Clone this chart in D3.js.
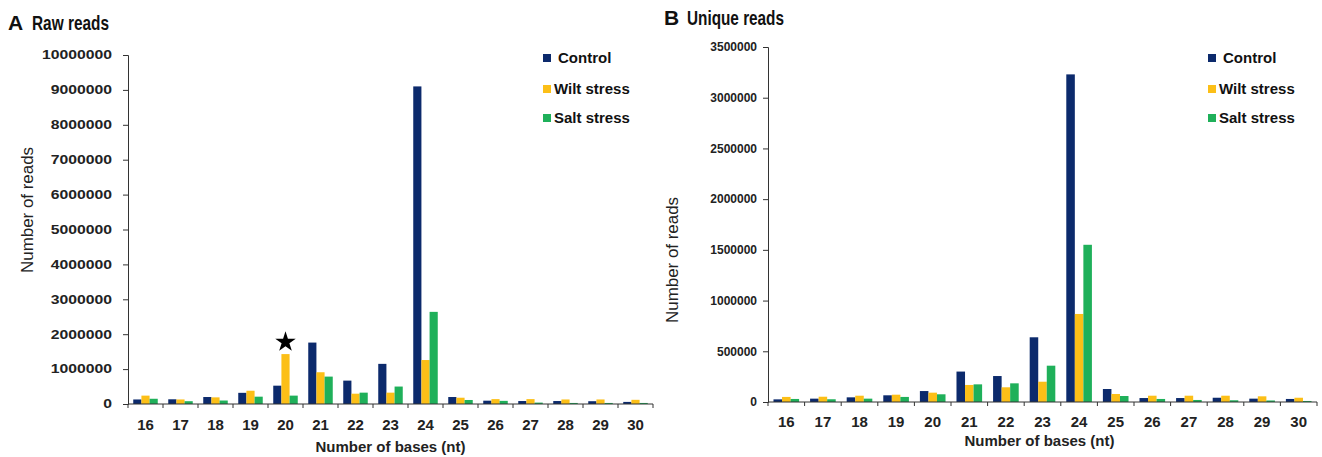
<!DOCTYPE html>
<html>
<head>
<meta charset="utf-8">
<script src="https://cdn.jsdelivr.net/npm/d3@7"></script>
<style>
  body { margin: 0; background: #fff; }
  svg { display: block; font-family: "Liberation Sans", Arial, Helvetica, sans-serif; }
</style>
</head>
<body>
<div id="chart"></div>
<script>
var W = 1322, H = 457;

// sRNA length classes (nt)
var lengths = ["16", "17", "18", "19", "20", "21", "22", "23", "24", "25", "26", "27", "28", "29", "30"];
var seriesNames = ["Control", "Wilt stress", "Salt stress"];
var colors = ["#0c2a6c", "#fcbf17", "#1fb05a"];

// A: raw reads
var rawControl = [130000, 135000, 200000, 320000, 525000, 1760000, 670000, 1150000, 9100000, 200000, 95000, 85000, 85000, 80000, 60000];
var rawWilt    = [240000, 130000, 190000, 380000, 1430000, 910000, 295000, 325000, 1260000, 180000, 140000, 140000, 130000, 130000, 120000];
var rawSalt    = [150000, 80000, 100000, 210000, 240000, 785000, 325000, 500000, 2640000, 115000, 90000, 40000, 30000, 30000, 30000];

// B: unique reads
var uniqControl = [26000, 33000, 46000, 66000, 108000, 300000, 256000, 638000, 3230000, 128000, 39000, 39000, 42000, 33000, 30000];
var uniqWilt    = [50000, 52000, 62000, 72000, 92000, 168000, 145000, 200000, 868000, 79000, 62000, 62000, 62000, 56000, 42000];
var uniqSalt    = [30000, 27000, 33000, 50000, 76000, 174000, 184000, 358000, 1550000, 59000, 30000, 20000, 17000, 15000, 10000];

var rawTicks  = [0, 1000000, 2000000, 3000000, 4000000, 5000000, 6000000, 7000000, 8000000, 9000000, 10000000];
var uniqTicks = [0, 500000, 1000000, 1500000, 2000000, 2500000, 3000000, 3500000];

var svg = d3.select("#chart").append("svg")
	.attr("width", W)
	.attr("height", H);

svg.append("rect").attr("width", W).attr("height", H).attr("fill", "#fff");

function drawPanel(p) {
	var g = svg.append("g");

	var x = d3.scaleBand().domain(lengths).range([p.left, p.right]).padding(0);
	var y = d3.scaleLinear().domain([0, p.max]).range([p.bottom, p.top]);
	var inner = d3.scaleBand().domain(d3.range(3)).range([0, x.bandwidth() * p.group]);
	var off = (x.bandwidth() - inner.range()[1]) / 2;

	var series = [p.control, p.wilt, p.salt];

	// bars
	series.forEach(function(vals, si) {
		g.append("g").selectAll("rect")
			.data(vals)
			.enter()
			.append("rect")
			.attr("x", (d, i) => x(lengths[i]) + off + inner(si))
			.attr("y", d => y(d))
			.attr("width", inner.bandwidth())
			.attr("height", d => p.bottom - y(d))
			.attr("fill", colors[si]);
	});

	// y axis
	var ya = g.append("g")
		.attr("transform", "translate(" + p.left + ",0)")
		.call(d3.axisLeft(y).tickValues(p.ticks).tickSize(5).tickPadding(p.pad).tickFormat(d3.format("d")));
	ya.select(".domain").attr("stroke", "#333");
	ya.selectAll(".tick line").attr("stroke", "#333");
	ya.selectAll("text")
		.attr("fill", "#222")
		.style("font-size", "12px")
		.style("font-weight", "bold")
		.style("font-family", "'Liberation Sans', Arial, sans-serif");
	if (p.stretch) {
		ya.selectAll("text")
			.attr("textLength", d => String(d).length * p.stretch)
			.attr("lengthAdjust", "spacingAndGlyphs");
	}

	// x axis: line plus ticks on category borders
	g.append("line")
		.attr("x1", p.left).attr("x2", p.right)
		.attr("y1", p.bottom).attr("y2", p.bottom)
		.attr("stroke", "#333");
	var borders = lengths.map(d => x(d)).concat([p.right]);
	g.append("g").selectAll("line")
		.data(borders)
		.enter()
		.append("line")
		.attr("x1", d => d).attr("x2", d => d)
		.attr("y1", p.bottom).attr("y2", p.bottom + 4)
		.attr("stroke", "#333");
	g.append("g").selectAll("text")
		.data(lengths)
		.enter()
		.append("text")
		.attr("x", d => x(d) + x.bandwidth() / 2)
		.attr("y", p.xlabY)
		.attr("text-anchor", "middle")
		.style("font-size", "15px")
		.style("font-weight", "bold")
		.attr("fill", "#222")
		.text(d => d);

	// axis titles
	g.append("text")
		.attr("x", (p.left + p.right) / 2 + p.xtitleDx)
		.attr("y", p.xtitleY)
		.attr("text-anchor", "middle")
		.style("font-size", "15px")
		.style("font-weight", "bold")
		.attr("fill", "#222")
		.text("Number of bases (nt)");

	g.append("text")
		.attr("transform", "translate(" + p.ytitleX + "," + p.ytitleY + ") rotate(-90)")
		.attr("text-anchor", "middle")
		.attr("textLength", 126)
		.attr("lengthAdjust", "spacingAndGlyphs")
		.style("font-size", "16px")
		.attr("fill", "#222")
		.text("Number of reads");

	// panel letter and title
	g.append("text")
		.attr("x", p.letterX).attr("y", p.titleY)
		.style("font-size", "21px").style("font-weight", "bold")
		.attr("fill", "#111")
		.text(p.letter);
	g.append("text")
		.attr("x", p.titleX).attr("y", p.titleY)
		.attr("textLength", p.titleLen)
		.attr("lengthAdjust", "spacingAndGlyphs")
		.style("font-size", "21px").style("font-weight", "bold")
		.attr("fill", "#111")
		.text(p.title);

	// legend
	var lg = g.append("g").selectAll("g")
		.data(seriesNames)
		.enter()
		.append("g")
		.attr("transform", (d, i) => "translate(" + p.legX + "," + p.legY[i] + ")");
	lg.append("rect")
		.attr("x", 0).attr("y", -4)
		.attr("width", 8).attr("height", 8)
		.attr("fill", (d, i) => colors[i]);
	lg.append("text")
		.attr("x", (d, i) => i === 0 ? 15 : 11)
		.attr("y", 5)
		.style("font-size", "15px")
		.style("font-weight", "bold")
		.attr("fill", "#111")
		.text(d => d);

	return { x: x, y: y, inner: inner, off: off };
}

var a = drawPanel({
	left: 128, right: 653, top: 55, bottom: 404, max: 10000000,
	ticks: rawTicks, pad: 11, stretch: 8.75, group: 0.7,
	control: rawControl, wilt: rawWilt, salt: rawSalt,
	xlabY: 430, xtitleY: 452, xtitleDx: 0, ytitleX: 33, ytitleY: 210,
	letter: "A", letterX: 8, title: "Raw reads", titleX: 32, titleY: 30, titleLen: 77,
	legX: 543, legY: [58, 89, 118]
});

drawPanel({
	left: 768, right: 1317, top: 47, bottom: 402, max: 3500000,
	ticks: uniqTicks, pad: 6, stretch: 0, group: 0.7,
	control: uniqControl, wilt: uniqWilt, salt: uniqSalt,
	xlabY: 427, xtitleY: 446, xtitleDx: -3, ytitleX: 678, ytitleY: 260,
	letter: "B", letterX: 664, title: "Unique reads", titleX: 687, titleY: 25, titleLen: 97,
	legX: 1208, legY: [58, 89, 118]
});

// star over the wilt-stress bar at 20 nt in panel A
var starIdx = lengths.indexOf("20");
svg.append("path")
	.attr("d", d3.symbol().type(d3.symbolStar).size(130)())
	.attr("transform", "translate(" + (a.x("20") + a.off + a.inner(1) + a.inner.bandwidth() / 2) + "," + (a.y(rawWilt[starIdx]) - 12) + ")")
	.attr("fill", "#000");
</script>
</body>
</html>
